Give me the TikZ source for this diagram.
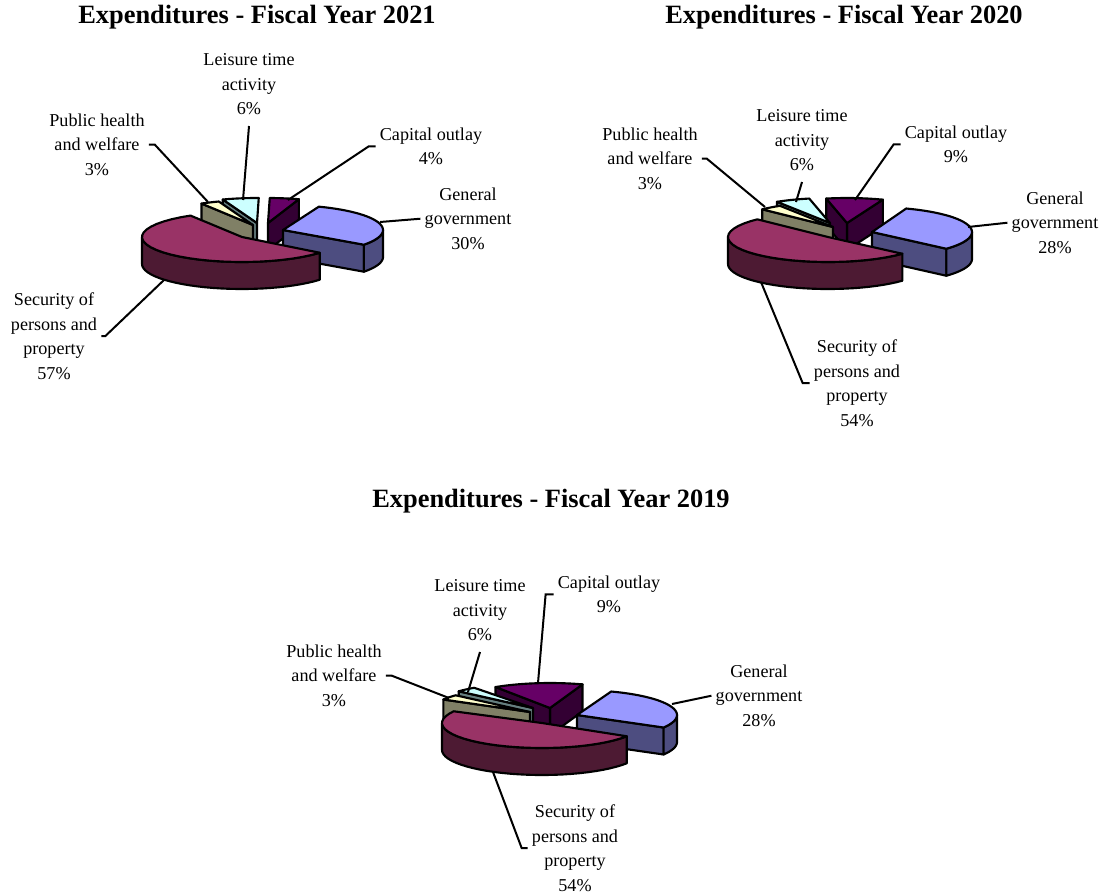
\documentclass[tikz,border=0pt]{standalone}
\usepackage{fontspec}
\setmainfont{Liberation Serif}

\definecolor{ggtop}{HTML}{9999FF}
\definecolor{ggside}{HTML}{4D4D80}
\definecolor{sectop}{HTML}{993366}
\definecolor{secside}{HTML}{4D1A33}
\definecolor{cotop}{HTML}{660066}
\definecolor{coside}{HTML}{330033}
\definecolor{lttop}{HTML}{CCFFFF}
\definecolor{ltside}{HTML}{668080}
\definecolor{phtop}{HTML}{FFFFCC}
\definecolor{phside}{HTML}{808066}

% pie size in px: x radius, y radius, thickness
\def\pierx{100}
\def\piery{25}
\def\pieh{27}
% top of a slice: apex x, apex y, from, to, colour
\newcommand{\pietop}[5]{\filldraw[piece,fill=#5] (#1,#2) -- plot[domain=#3:#4,samples=30] ({#1+\pierx*cos(\x)},{#2-\piery*sin(\x)}) -- cycle;}
% outer rim of a slice
\newcommand{\pieside}[5]{\filldraw[piece,fill=#5] plot[domain=#3:#4,samples=30] ({#1+\pierx*cos(\x)},{#2-\piery*sin(\x)}) -- plot[domain=#4:#3,samples=30] ({#1+\pierx*cos(\x)},{#2-\piery*sin(\x)+\pieh}) -- cycle;}
% cut face of a slice at one angle
\newcommand{\piecut}[4]{\filldraw[piece,fill=#4] (#1,#2) -- ({#1+\pierx*cos(#3)},{#2-\piery*sin(#3)}) -- ++(0,\pieh) -- (#1,{#2+\pieh}) -- cycle;}

\begin{document}
\begin{tikzpicture}[x=0.75pt,y=-0.75pt,
  piece/.style={draw=black,line width=1.6pt,line join=round},
  leader/.style={draw=black,line width=1.5pt},
  slicelabel/.style={align=center,inner sep=3pt,anchor=north,font=\fontsize{13.6}{18.4}\selectfont},
  heading/.style={anchor=base,inner sep=0pt,font=\bfseries\fontsize{19.8}{24}\selectfont}]
\useasboundingbox (0,0) rectangle (1104,894);

% ---- fiscal year 2021
\node[heading] (title21) at (257,23) {Expenditures - Fiscal Year 2021};
\piecut{268}{223}{72}{coside}
\pietop{268}{223}{72}{89}{cotop}
\piecut{257}{223}{110}{ltside}
\pietop{257}{223}{89}{110}{lttop}
\piecut{253}{225}{121}{phside}
\pietop{253}{225}{110}{121}{phtop}
\piecut{283}{230}{-36}{ggside}
\pieside{283}{230}{-36}{0}{ggside}
\pietop{283}{230}{-36}{69}{ggtop}
\pieside{242}{237}{180}{321}{secside}
\pietop{242}{237}{121}{321}{sectop}
% create the nodes
\node[slicelabel] (lt21) at (249,49.5) {Leisure time\\activity\\6\%};
\node[slicelabel] (ph21) at (97,109.5) {Public health\\and welfare\\3\%};
\node[slicelabel] (co21) at (431,123.5) {Capital outlay\\4\%};
\node[slicelabel] (gg21) at (468,183.5) {General\\government\\30\%};
\node[slicelabel] (sec21) at (54,288.5) {Security of\\persons and\\property\\57\%};
\coordinate (lt21tip) at (243,200);
\coordinate (ph21tip) at (208,202);
\coordinate (co21tip) at (288,200);
\coordinate (gg21tip) at (380,222);
\coordinate (sec21tip) at (164,280);
% connect the nodes
\draw[leader] ([yshift=-5pt]lt21.south) -- (lt21tip);
\draw[leader] (ph21.east) -- ++(6,0) -- (ph21tip);
\draw[leader] (co21.west) -- ++(-7,0) -- (co21tip);
\draw[leader] (gg21.west) -- (gg21tip);
\draw[leader] (sec21.east) -- ++(4,0) -- (sec21tip);

% ---- fiscal year 2020
\node[heading] (title20) at (844,23) {Expenditures - Fiscal Year 2020};
\piecut{847}{223}{69}{coside}
\piecut{847}{223}{102}{coside}
\pietop{847}{223}{69}{102}{cotop}
\piecut{830}{223}{122}{ltside}
\pietop{830}{223}{102}{122}{lttop}
\piecut{833}{227}{135}{phside}
\pietop{833}{227}{122}{135}{phtop}
\piecut{872}{232}{-42}{ggside}
\pieside{872}{232}{-42}{0}{ggside}
\pietop{872}{232}{-42}{70}{ggtop}
\pieside{828}{237}{180}{318}{secside}
\pietop{828}{237}{135}{318}{sectop}
% create the nodes
\node[slicelabel] (lt20) at (802,105.5) {Leisure time\\activity\\6\%};
\node[slicelabel] (ph20) at (650,123.5) {Public health\\and welfare\\3\%};
\node[slicelabel] (co20) at (956,121.5) {Capital outlay\\9\%};
\node[slicelabel] (gg20) at (1055,187.5) {General\\government\\28\%};
\node[slicelabel] (sec20) at (857,335.5) {Security of\\persons and\\property\\54\%};
\coordinate (lt20tip) at (796,202);
\coordinate (ph20tip) at (765,207);
\coordinate (co20tip) at (855,200);
\coordinate (gg20tip) at (968,227);
\coordinate (sec20tip) at (761,282);
% connect the nodes
\draw[leader] ([yshift=-5pt]lt20.south) -- (lt20tip);
\draw[leader] (ph20.east) -- ++(5,0) -- (ph20tip);
\draw[leader] (co20.west) -- ++(-7,0) -- (co20tip);
\draw[leader] (gg20.west) -- (gg20tip);
\draw[leader] (sec20.west) -- ++(-7,0) -- (sec20tip);

% ---- fiscal year 2019
\node[heading] (title19) at (551,507) {Expenditures - Fiscal Year 2019};
\piecut{550}{708}{71}{coside}
\piecut{550}{708}{123}{coside}
\pietop{550}{708}{71}{123}{cotop}
\piecut{533}{708}{138}{ltside}
\pietop{533}{708}{126}{138}{lttop}
\piecut{530}{712}{150}{phside}
\pietop{530}{712}{138}{150}{phtop}
\piecut{577}{715}{-30}{ggside}
\pieside{577}{715}{-30}{0}{ggside}
\pietop{577}{715}{-30}{70}{ggtop}
\pieside{542}{723}{180}{328}{secside}
\pietop{542}{723}{152}{328}{sectop}
% create the nodes
\node[slicelabel] (lt19) at (480,575.5) {Leisure time\\activity\\6\%};
\node[slicelabel] (co19) at (609,571.5) {Capital outlay\\9\%};
\node[slicelabel] (ph19) at (334,640.5) {Public health\\and welfare\\3\%};
\node[slicelabel] (gg19) at (759,660.5) {General\\government\\28\%};
\node[slicelabel] (sec19) at (575,800.5) {Security of\\persons and\\property\\54\%};
\coordinate (lt19tip) at (468,692);
\coordinate (ph19tip) at (449,698);
\coordinate (co19tip) at (538,683);
\coordinate (gg19tip) at (672,704);
\coordinate (sec19tip) at (493,772);
% connect the nodes
\draw[leader] ([yshift=-5pt]lt19.south) -- (lt19tip);
\draw[leader] (ph19.east) -- ++(6,0) -- (ph19tip);
\draw[leader] (co19.west) -- ++(-8,0) -- (co19tip);
\draw[leader] (gg19.west) -- (gg19tip);
\draw[leader] (sec19.west) -- ++(-6,0) -- (sec19tip);
\end{tikzpicture}
\end{document}
